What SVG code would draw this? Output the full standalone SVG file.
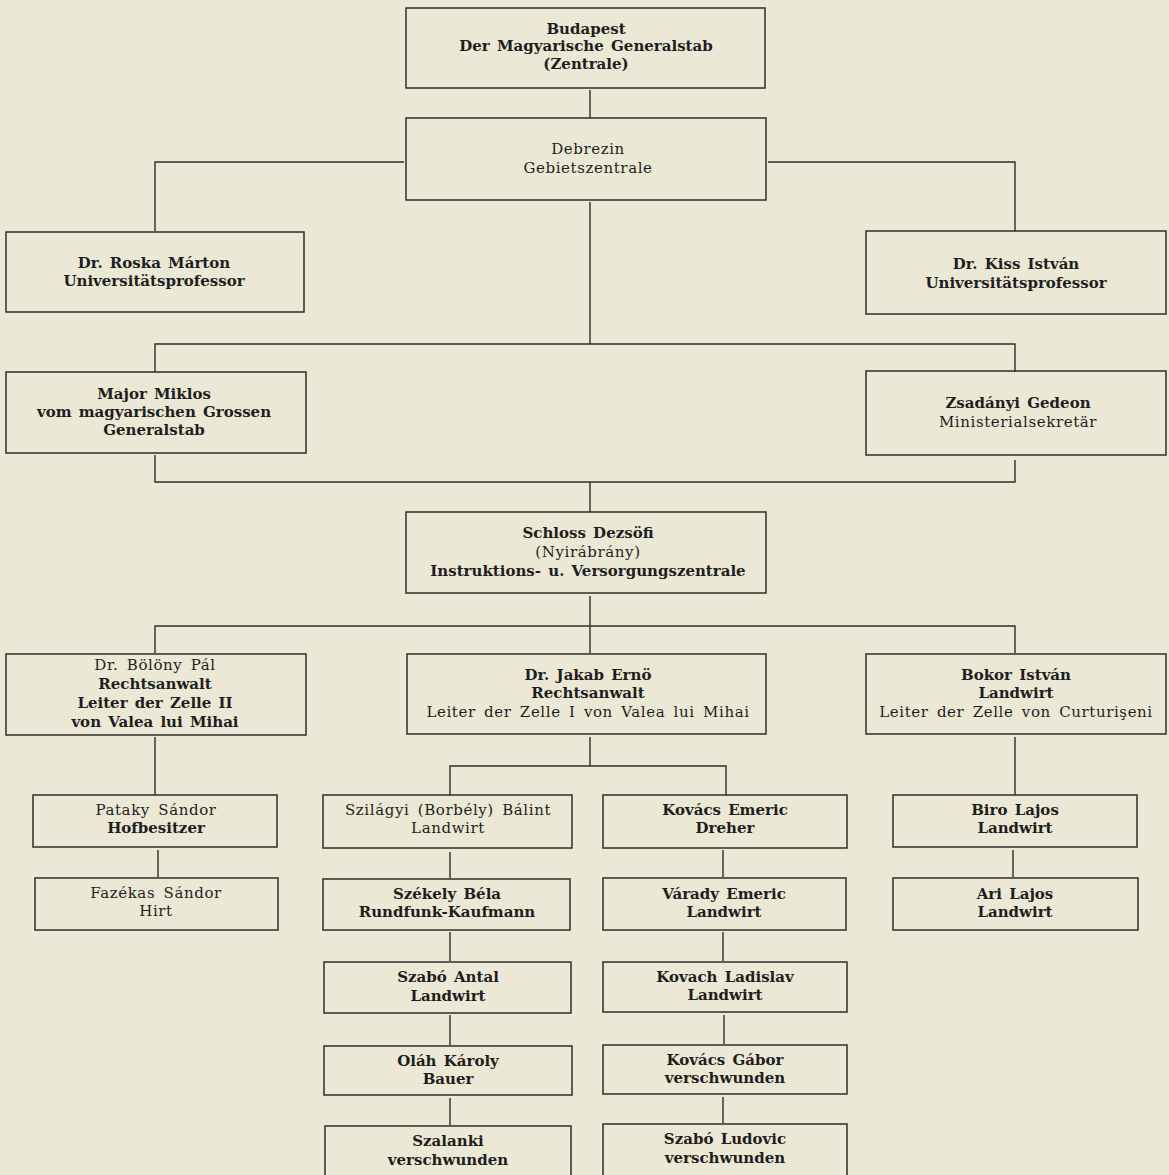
<svg xmlns="http://www.w3.org/2000/svg" width="1169" height="1175" viewBox="0 0 1169 1175">
<style>
.bg{fill:#ebe9d5}
.box{fill:none;stroke:#2e2e2e;stroke-width:1.5}
.ln{fill:none;stroke:#2e2e2e;stroke-width:1.4}
text{font-family:"DejaVu Serif","Liberation Serif",serif;font-size:15px;fill:#1e1e1e;text-anchor:middle;dominant-baseline:central;letter-spacing:0.6px;word-spacing:3px}
.b{font-weight:bold;letter-spacing:0;word-spacing:2px}
</style>
<rect class="bg" width="1169" height="1175"/>
<g id="connectors">
<path class="ln" d="M590 90V118"/>
<path class="ln" d="M404 162H155V231M768 162H1015V231"/>
<path class="ln" d="M590 202V344M155 372V344H1015V372"/>
<path class="ln" d="M155 455V482H1015V460M590 482V512"/>
<path class="ln" d="M590 596V626M155 653V626H1015V653M590 626V653"/>
<path class="ln" d="M155 737V795M158 850V877"/>
<path class="ln" d="M590 737V766M450 795V766H726V795"/>
<path class="ln" d="M450 852V878M723 850V877"/>
<path class="ln" d="M450 932V961M450 1015V1045M450 1098V1125"/>
<path class="ln" d="M723 932V961M724 1015V1044M723 1097V1123"/>
<path class="ln" d="M1015 737V795M1013 850V877"/>
</g>
<g id="budapest"><rect class="box" x="406" y="8" width="359" height="80"/>
<text class="b" x="586" y="29">Budapest</text><text class="b" x="586" y="46">Der Magyarische Generalstab</text><text class="b" x="586" y="64">(Zentrale)</text></g>
<g id="debrezin"><rect class="box" x="406" y="118" width="360" height="82"/>
<text x="588" y="149">Debrezin</text><text x="588" y="168">Gebietszentrale</text></g>
<g id="roska"><rect class="box" x="6" y="232" width="298" height="80"/>
<text class="b" x="154" y="263">Dr. Roska Márton</text><text class="b" x="154" y="281">Universitätsprofessor</text></g>
<g id="kiss"><rect class="box" x="866" y="231" width="300" height="83"/>
<text class="b" x="1016" y="264">Dr. Kiss István</text><text class="b" x="1016" y="283">Universitätsprofessor</text></g>
<g id="miklos"><rect class="box" x="6" y="372" width="300" height="81"/>
<text class="b" x="154" y="394">Major Miklos</text><text class="b" x="154" y="412">vom magyarischen Grossen</text><text class="b" x="154" y="430">Generalstab</text></g>
<g id="zsadanyi"><rect class="box" x="866" y="371" width="300" height="84"/>
<text class="b" x="1018" y="403">Zsadányi Gedeon</text><text x="1018" y="422">Ministerialsekretär</text></g>
<g id="schloss"><rect class="box" x="406" y="512" width="360" height="81"/>
<text class="b" x="588" y="533">Schloss Dezsöfi</text><text x="588" y="552">(Nyirábrány)</text><text class="b" x="588" y="571">Instruktions- u. Versorgungszentrale</text></g>
<g id="boloeny"><rect class="box" x="6" y="654" width="300" height="81"/>
<text x="155" y="665">Dr. Bölöny Pál</text><text class="b" x="155" y="684">Rechtsanwalt</text><text class="b" x="155" y="703">Leiter der Zelle II</text><text class="b" x="155" y="722">von Valea lui Mihai</text></g>
<g id="jakab"><rect class="box" x="407" y="654" width="359" height="80"/>
<text class="b" x="588" y="675">Dr. Jakab Ernö</text><text class="b" x="588" y="693">Rechtsanwalt</text><text x="588" y="712">Leiter der Zelle I von Valea  lui Mihai</text></g>
<g id="bokor"><rect class="box" x="866" y="654" width="300" height="80"/>
<text class="b" x="1016" y="675">Bokor István</text><text class="b" x="1016" y="693">Landwirt</text><text x="1016" y="712">Leiter der Zelle von Curturişeni</text></g>
<g id="pataky"><rect class="box" x="33" y="795" width="244" height="52"/>
<text x="156" y="810">Pataky Sándor</text><text class="b" x="156" y="828">Hofbesitzer</text></g>
<g id="fazekas"><rect class="box" x="35" y="878" width="243" height="52"/>
<text x="156" y="893">Fazékas Sándor</text><text x="156" y="911">Hirt</text></g>
<g id="szilagyi"><rect class="box" x="323" y="795" width="249" height="53"/>
<text x="448" y="810">Szilágyi (Borbély) Bálint</text><text x="448" y="828">Landwirt</text></g>
<g id="kovacs-emeric"><rect class="box" x="603" y="795" width="244" height="53"/>
<text class="b" x="725" y="810">Kovács Emeric</text><text class="b" x="725" y="828">Dreher</text></g>
<g id="szekely"><rect class="box" x="323" y="879" width="247" height="51"/>
<text class="b" x="447" y="894">Székely Béla</text><text class="b" x="447" y="912">Rundfunk-Kaufmann</text></g>
<g id="varady"><rect class="box" x="603" y="878" width="243" height="52"/>
<text class="b" x="724" y="894">Várady Emeric</text><text class="b" x="724" y="912">Landwirt</text></g>
<g id="szabo-antal"><rect class="box" x="324" y="962" width="247" height="51"/>
<text class="b" x="448" y="977">Szabó Antal</text><text class="b" x="448" y="996">Landwirt</text></g>
<g id="kovach"><rect class="box" x="603" y="962" width="244" height="50"/>
<text class="b" x="725" y="977">Kovach Ladislav</text><text class="b" x="725" y="995">Landwirt</text></g>
<g id="olah"><rect class="box" x="324" y="1046" width="248" height="49"/>
<text class="b" x="448" y="1061">Oláh Károly</text><text class="b" x="448" y="1079">Bauer</text></g>
<g id="kovacs-gabor"><rect class="box" x="603" y="1045" width="244" height="49"/>
<text class="b" x="725" y="1060">Kovács Gábor</text><text class="b" x="725" y="1078">verschwunden</text></g>
<g id="szalanki"><rect class="box" x="325" y="1126" width="246" height="60"/>
<text class="b" x="448" y="1141">Szalanki</text><text class="b" x="448" y="1160">verschwunden</text></g>
<g id="szabo-ludovic"><rect class="box" x="603" y="1124" width="244" height="62"/>
<text class="b" x="725" y="1139">Szabó Ludovic</text><text class="b" x="725" y="1158">verschwunden</text></g>
<g id="biro"><rect class="box" x="893" y="795" width="244" height="52"/>
<text class="b" x="1015" y="810">Biro Lajos</text><text class="b" x="1015" y="828">Landwirt</text></g>
<g id="ari"><rect class="box" x="893" y="878" width="245" height="52"/>
<text class="b" x="1015" y="894">Ari Lajos</text><text class="b" x="1015" y="912">Landwirt</text></g>
</svg>
